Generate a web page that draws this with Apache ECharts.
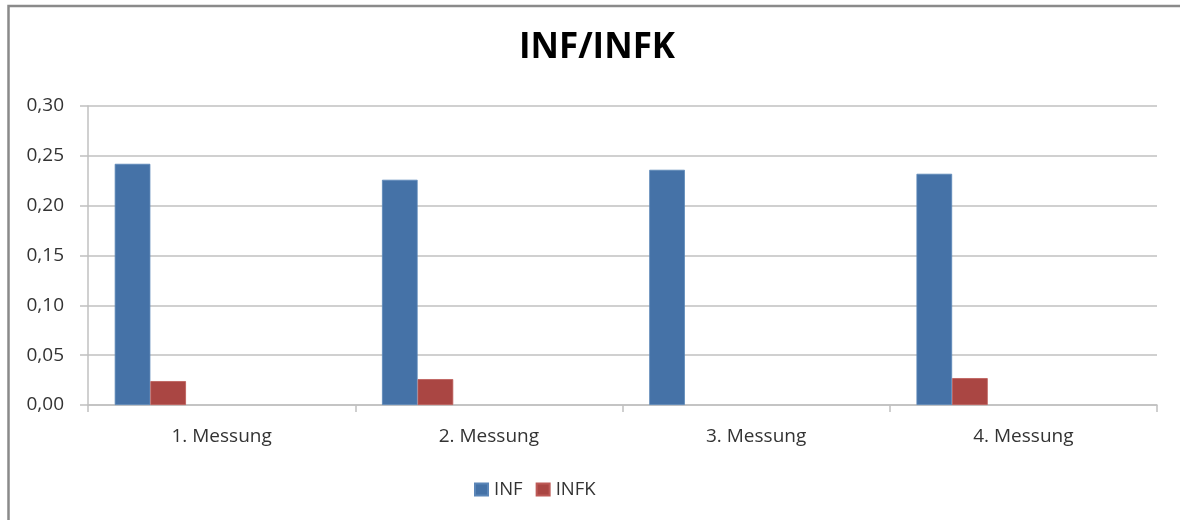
<!DOCTYPE html>
<html>
<head>
<meta charset="utf-8">
<script src="https://cdn.jsdelivr.net/npm/echarts@6/dist/echarts.min.js"></script>
<style>
  html, body { margin: 0; padding: 0; background: #ffffff; }
  #chart { width: 1180px; height: 520px; }
</style>
</head>
<body>
<div id="chart"></div>
<script>
// Measurement rounds and the two ratios recorded for each
const categories = ['1. Messung', '2. Messung', '3. Messung', '4. Messung'];
const infValues = [0.242, 0.226, 0.236, 0.232];
const infkValues = [0.024, 0.026, null, 0.027];
const yTicks = { min: 0, max: 0.30, step: 0.05 };

const labelFont = '"Open Sans", "DejaVu Sans", sans-serif';
const gridGrey = '#c0c0c0';
const textGrey = '#333333';

// Workbook layout reserves six bar slots per category; only two carry data
const placeholderSlots = [1, 2, 3, 4].map(() => ({
  type: 'bar',
  data: [],
  barGap: 0,
  barCategoryGap: '20%',
  silent: true
}));

const chart = echarts.init(document.getElementById('chart'), null, { renderer: 'canvas' });

chart.setOption({
  animation: false,
  backgroundColor: '#ffffff',
  title: {
    text: 'INF/INFK',
    left: 592,
    top: 26,
    textAlign: 'center',
    textStyle: {
      fontFamily: labelFont,
      fontWeight: 'bold',
      fontSize: 35,
      color: '#000000'
    }
  },
  legend: {
    data: ['INF', 'INFK'],
    left: 469,
    top: 475,
    icon: 'rect',
    itemWidth: 13,
    itemHeight: 12,
    itemGap: 13,
    textStyle: { fontFamily: labelFont, fontSize: 18.5, color: textGrey, padding: [0, 0, 0, 1] }
  },
  grid: { left: 88, right: 23, top: 106, bottom: 115, containLabel: false },
  xAxis: {
    type: 'category',
    data: categories,
    axisLine: { show: true, lineStyle: { color: gridGrey, width: 1.5 } },
    axisTick: { show: true, length: 7, lineStyle: { color: gridGrey, width: 1.5 } },
    axisLabel: { margin: 22, fontFamily: labelFont, fontSize: 19, color: textGrey },
    splitLine: { show: false }
  },
  yAxis: {
    type: 'value',
    min: yTicks.min,
    max: yTicks.max,
    interval: yTicks.step,
    axisLine: { show: true, lineStyle: { color: gridGrey, width: 1.5 } },
    axisTick: { show: true, length: 8, lineStyle: { color: gridGrey, width: 1.5 } },
    axisLabel: {
      margin: 24,
      fontFamily: labelFont,
      fontSize: 19,
      color: textGrey,
      formatter: v => v.toFixed(2).replace('.', ',')
    },
    splitLine: { show: true, lineStyle: { color: gridGrey, width: 1.5 } }
  },
  graphic: [{
    type: 'rect',
    shape: { x: 8.5, y: 6, width: 1400, height: 800 },
    style: { fill: 'none', stroke: '#8a8a8a', lineWidth: 2.5 },
    silent: true,
    z: 100
  }],
  series: [
    {
      name: 'INF',
      type: 'bar',
      data: infValues,
      barGap: 0,
      barCategoryGap: '20%',
      itemStyle: { color: '#4572A7', borderColor: '#5b86b8', borderWidth: 0.8 }
    },
    {
      name: 'INFK',
      type: 'bar',
      data: infkValues,
      barGap: 0,
      barCategoryGap: '20%',
      itemStyle: { color: '#AA4643', borderColor: '#bd5a57', borderWidth: 0.8 }
    },
    ...placeholderSlots
  ]
});
</script>
</body>
</html>
